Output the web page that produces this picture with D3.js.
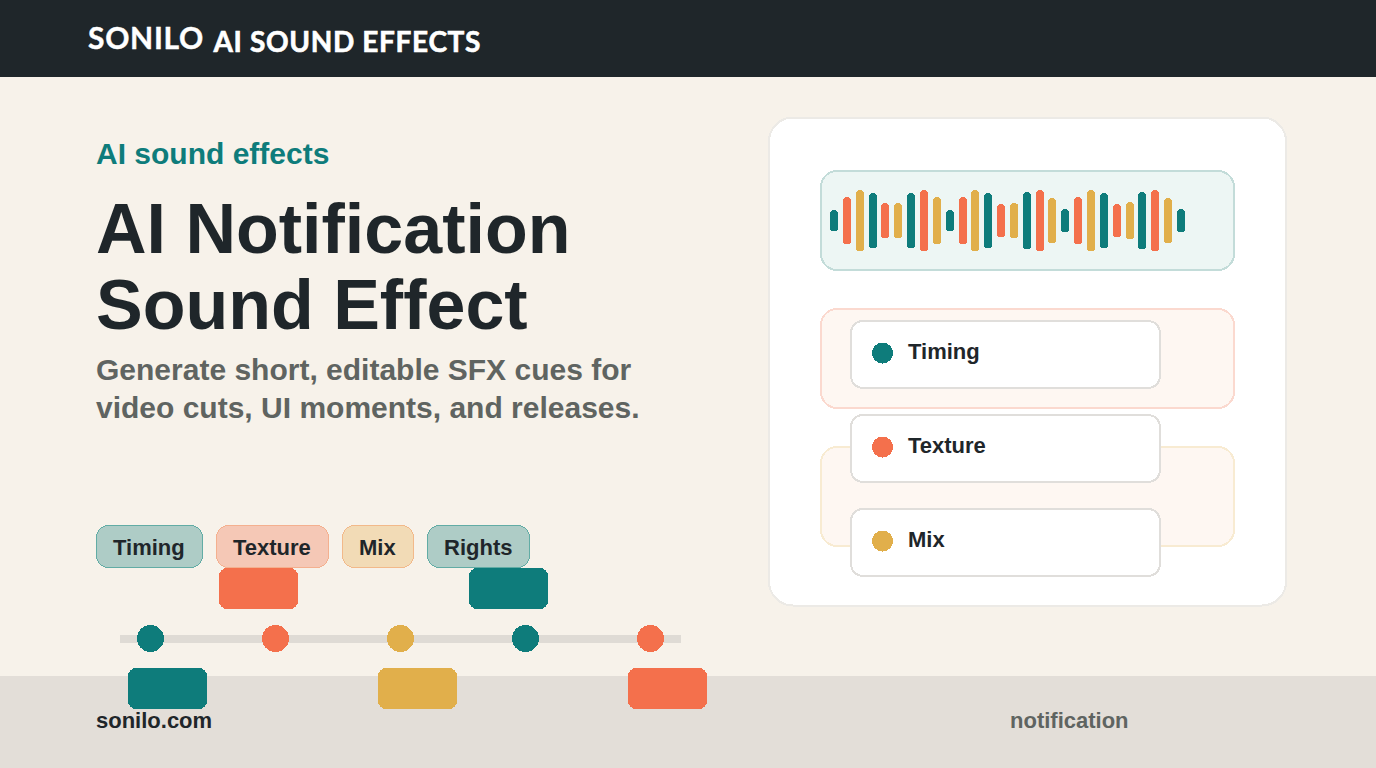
<!DOCTYPE html>
<html>
<head>
<meta charset="utf-8">
<script src="https://cdn.jsdelivr.net/npm/d3@7"></script>
<style>
  html, body { margin: 0; padding: 0; background: #f7f2ea; }
  svg { display: block; }
  svg rect, svg circle { shape-rendering: crispEdges; }
  text { font-family: "Liberation Sans", Arial, sans-serif; font-weight: 700; }
</style>
</head>
<body>
<div id="chart"></div>
<script>
const brand = "SONILO"
const headerTitle = "AI SOUND EFFECTS"
const eyebrow = "AI sound effects"
const titleLines = ["AI Notification", "Sound Effect"]
const subtitleLines = ["Generate short, editable SFX cues for", "video cuts, UI moments, and releases."]
const footerLeft = "sonilo.com"
const footerRight = "notification"

const chipLabels = ["Timing", "Texture", "Mix", "Rights"]
const chipTones = ["teal", "coral", "gold", "teal"]

const cardLabels = ["Timing", "Texture", "Mix"]
const cardTones = ["teal", "coral", "gold"]

const cueTones = ["teal", "coral", "gold", "teal", "coral"]
const cueSides = ["below", "above", "below", "above", "below"]

// relative bar heights of the waveform, 100 = tallest
const waveValues = [34, 77, 100, 90, 57, 57, 90, 100, 77, 34, 77, 100, 90, 54, 57, 93, 100, 74, 38, 77, 100, 90, 54, 61, 93, 100, 74, 38]
const waveTones = ["teal", "coral", "gold"]

const colors = { teal: "#0e7c7b", coral: "#f4704c", gold: "#e1af4b" }
const chipFill = { teal: "#aeccc6", coral: "#f5c8b6", gold: "#f2dbb6" }
const chipStroke = { teal: "#62aca5", coral: "#f4b08f", gold: "#f2b98a" }
const dark = "#1f262a"
const gray = "#5f6461"

const width = 1376
const height = 768

const svg = d3.select("#chart").append("svg")
  .attr("width", width)
  .attr("height", height)

svg.append("rect").attr("width", width).attr("height", height).attr("fill", "#f7f2ea")

// header
svg.append("rect").attr("width", width).attr("height", 77).attr("fill", dark)
svg.append("text").attr("x", 88).attr("y", 49).attr("fill", "#fff")
  .attr("stroke", "#fff").attr("stroke-width", 0.4)
  .style("font-family", "Lato").style("font-size", "30px").style("letter-spacing", "0.7px").text(brand)
svg.append("text").attr("x", 213.5).attr("y", 52).attr("fill", "#fff")
  .attr("stroke", "#fff").attr("stroke-width", 0.6)
  .style("font-family", "Lato").style("font-size", "28px").style("letter-spacing", "0.65px").text(headerTitle)

// footer
svg.append("rect").attr("y", 676).attr("width", width).attr("height", 92).attr("fill", "#e3ded8")
svg.append("text").attr("x", 96).attr("y", 728).attr("fill", dark)
  .style("font-size", "22px").text(footerLeft)
svg.append("text").attr("x", 1010).attr("y", 728).attr("fill", gray)
  .style("font-size", "22px").text(footerRight)

// left column
svg.append("text").attr("x", 96).attr("y", 164).attr("fill", colors.teal)
  .style("font-size", "30px").text(eyebrow)

svg.selectAll("text.title").data(titleLines)
  .join("text")
  .attr("class", "title")
  .attr("x", 96)
  .attr("y", function (d, i) { return 252.5 + i * 76 })
  .attr("fill", dark)
  .style("font-size", "70px")
  .text(function (d) { return d })

svg.selectAll("text.subtitle").data(subtitleLines)
  .join("text")
  .attr("class", "subtitle")
  .attr("x", 96)
  .attr("y", function (d, i) { return 380 + i * 38 })
  .attr("fill", gray)
  .style("font-size", "30px")
  .text(function (d) { return d })

// chips, width follows the label
let chipX = 96
chipLabels.forEach(function (label, i) {
  let g = svg.append("g").attr("class", "chip")
  let rect = g.append("rect")
  let text = g.append("text")
    .attr("x", chipX + 17)
    .attr("y", 555)
    .attr("fill", dark)
    .style("font-size", "22px")
    .text(label)
  let w = Math.round(text.node().getComputedTextLength() + 35)
  rect.attr("x", chipX + 0.5)
    .attr("y", 525.5)
    .attr("width", w - 1)
    .attr("height", 42)
    .attr("rx", 12)
    .attr("fill", chipFill[chipTones[i]])
    .attr("stroke", chipStroke[chipTones[i]])
  chipX += w + 13
})

// timeline
const cueX = d3.scalePoint().domain(d3.range(cueTones.length)).range([150, 650])
const lineY = 638.5

svg.append("rect").attr("x", 120).attr("y", 635).attr("width", 561).attr("height", 8).attr("fill", "#dfdbd5")

svg.selectAll("rect.cue").data(cueTones)
  .join("rect")
  .attr("class", "cue")
  .attr("x", function (d, i) { return cueX(i) + (cueSides[i] === "above" ? -56 : -22) })
  .attr("y", function (d, i) { return cueSides[i] === "above" ? 568 : 668 })
  .attr("width", 79)
  .attr("height", 41)
  .attr("rx", 8)
  .attr("fill", function (d) { return colors[d] })

svg.selectAll("circle.cue").data(cueTones)
  .join("circle")
  .attr("class", "cue")
  .attr("cx", function (d, i) { return cueX(i) + 0.5 })
  .attr("cy", lineY)
  .attr("r", 13.5)
  .attr("fill", function (d) { return colors[d] })

// right card
svg.append("rect").attr("x", 769).attr("y", 117.5).attr("width", 517).attr("height", 488)
  .attr("rx", 24).attr("fill", "#fff").attr("stroke", "#eceae6").attr("stroke-width", 2)

svg.append("rect").attr("x", 821).attr("y", 171).attr("width", 413).attr("height", 99)
  .attr("rx", 16).attr("fill", "#edf6f4").attr("stroke", "#c3dcd9").attr("stroke-width", 2)
svg.append("rect").attr("x", 821).attr("y", 309).attr("width", 413).attr("height", 99)
  .attr("rx", 16).attr("fill", "#fef7f2").attr("stroke", "#fbd9cf").attr("stroke-width", 2)
svg.append("rect").attr("x", 821).attr("y", 447).attr("width", 413).attr("height", 99)
  .attr("rx", 16).attr("fill", "#fef7f2").attr("stroke", "#f8ebd2").attr("stroke-width", 2)

// waveform
const waveX = d3.scalePoint().domain(d3.range(waveValues.length)).range([834, 1181])
const waveH = d3.scaleLinear().domain([0, 100]).range([0, 61])
const waveY = 220.5

svg.selectAll("rect.wave").data(waveValues)
  .join("rect")
  .attr("class", "wave")
  .attr("x", function (d, i) { return Math.round(waveX(i) - 4) })
  .attr("y", function (d) { return Math.round(waveY - waveH(d) / 2) })
  .attr("width", 8)
  .attr("height", function (d) { return Math.round(waveH(d)) })
  .attr("rx", 3.5)
  .attr("fill", function (d, i) { return colors[waveTones[i % waveTones.length]] })

// legend cards
const cardY = d3.scalePoint().domain(d3.range(cardLabels.length)).range([321, 509])

svg.selectAll("rect.card").data(cardLabels)
  .join("rect")
  .attr("class", "card")
  .attr("x", 851)
  .attr("y", function (d, i) { return cardY(i) })
  .attr("width", 309)
  .attr("height", 67)
  .attr("rx", 12)
  .attr("fill", "#fff")
  .attr("stroke", "#e0dedb")
  .attr("stroke-width", 2)

svg.selectAll("circle.card").data(cardLabels)
  .join("circle")
  .attr("class", "card")
  .attr("cx", 882.5)
  .attr("cy", function (d, i) { return cardY(i) + 32 })
  .attr("r", 10.5)
  .attr("fill", function (d, i) { return colors[cardTones[i]] })

svg.selectAll("text.card").data(cardLabels)
  .join("text")
  .attr("class", "card")
  .attr("x", 908)
  .attr("y", function (d, i) { return cardY(i) + 38 })
  .attr("fill", dark)
  .style("font-size", "22px")
  .text(function (d) { return d })
</script>
</body>
</html>
